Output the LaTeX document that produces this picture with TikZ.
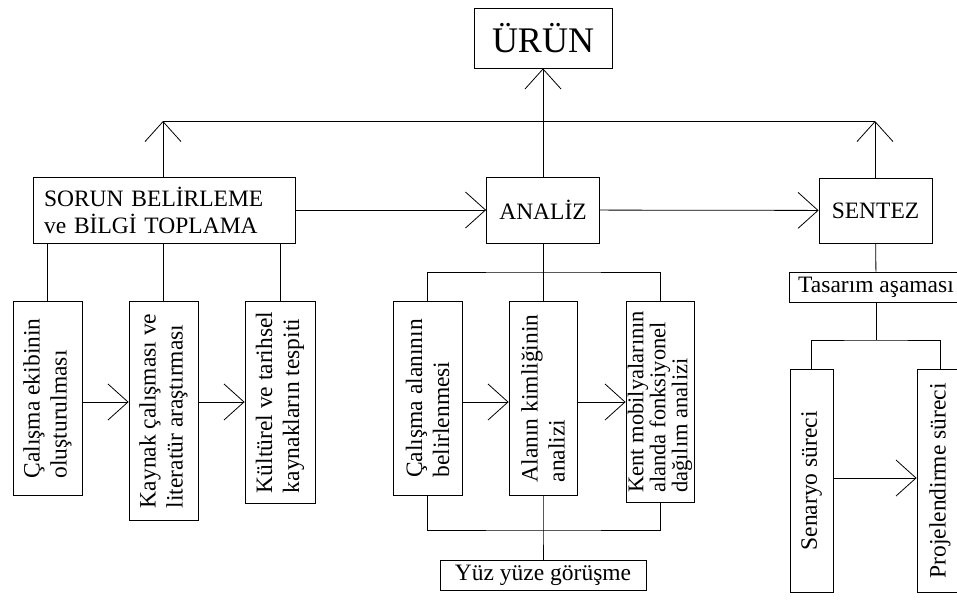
\documentclass[tikz,border=0pt]{standalone}
\usepackage{fontspec}
\setmainfont{Liberation Serif}
\usetikzlibrary{arrows.meta}
\begin{document}
\begin{tikzpicture}[x=1pt,y=-1pt,line width=0.8pt,
  every node/.style={font=\fontsize{23.5}{27}\selectfont},
  kutu/.style={draw, line width=0.8pt, inner sep=0pt},
  dikey/.style={kutu, rotate=90, anchor=east, align=left},
  ok/.style={-{Straight Barb[length=20pt,width=36pt]}}]
\useasboundingbox (0,0) rectangle (957,599);
\clip (0,0) rectangle (957,599);
	\node[kutu, minimum width=138, minimum height=60, font=\fontsize{36}{40}\selectfont] (urun) at (543,38) {ÜRÜN};
	\node[kutu, text width=240pt, inner xsep=11pt, minimum height=66, align=left] (sorun) at (164,210) {SORUN BELİRLEME\\ve BİLGİ TOPLAMA};
	\node[kutu, minimum width=113, minimum height=66] (analiz) at (543,210) {ANALİZ};
	\node[kutu, minimum width=113, minimum height=65] (sentez) at (875.5,210.5) {SENTEZ};
	\node[kutu, minimum width=174, minimum height=30] (tasarim) at (876,287) {Tasarım aşaması};
	\node[kutu, minimum width=206, minimum height=30] (yuz) at (543,575) {Yüz yüze görüşme};
	% sorun belirleme
	\node[dikey, minimum width=194, minimum height=69] (b1) at (47.5,301) {Çalışma ekibinin\\oluşturulması};
	\node[dikey, minimum width=219, minimum height=69] (b2) at (163.5,301) {Kaynak çalışması ve\\literatür araştırması};
	\node[dikey, minimum width=202, minimum height=70] (b3) at (280,301) {Kültürel ve tarihsel\\kaynakların tespiti};
	% analiz
	\node[dikey, minimum width=194, minimum height=69] (a1) at (427.5,301) {Çalışma alanının\\belirlenmesi};
	\node[dikey, minimum width=194, minimum height=68] (a2) at (543,301) {Alanın kimliğinin\\analizi};
	\node[dikey, minimum width=201, minimum height=68, font=\fontsize{22.5}{22}\selectfont] (a3) at (660,301) {Kent mobilyalarının\\alanda fonksiyonel\\dağılım analizi};
	% sentez
	\node[dikey, minimum width=223, minimum height=43] (s1) at (811.5,369) {Senaryo süreci};
	\node[dikey, minimum width=223, minimum height=46] (s2) at (940,369) {Projelendirme süreci};
	\coordinate (tl) at (163,121);
	\coordinate (tr) at (875,121);
	\coordinate (aj) at (543,272);
	\coordinate (ab) at (543,530);
	\coordinate (sj) at (876,340);
	\coordinate (m1) at (0,402);
	\coordinate (m2) at (0,478);
	\draw (tl) -- (tr);
	\draw[ok] (sorun.north -| tl) -- (tl);
	\draw[ok] (sentez.north -| tr) -- (tr);
	\draw[ok] (analiz) -- (urun);
	\draw[ok] (sorun) -- (analiz);
	\draw[ok] (analiz) -- (sentez);
	\draw (b1.east) -- (b1.east |- sorun.south);
	\draw (b2.east) -- (b2.east |- sorun.south);
	\draw (b3.east) -- (b3.east |- sorun.south);
	\draw[ok] (b1.south |- m1) -- (b2.north |- m1);
	\draw[ok] (b2.south |- m1) -- (b3.north |- m1);
	\draw (analiz) -- (aj);
	\draw (a1.east) |- (aj) -| (a3.east);
	\draw (aj) -- (a2.east);
	\draw (a1.west) |- (ab) -| (a3.west);
	\draw (a2.west) -- (ab) -- (yuz);
	\draw[ok] (a1.south |- m1) -- (a2.north |- m1);
	\draw[ok] (a2.south |- m1) -- (a3.north |- m1);
	\draw (sentez) -- (tasarim);
	\draw (tasarim) -- (sj);
	\draw (s1.east) |- (sj) -| (s2.east);
	\draw[ok] (s1.south |- m2) -- (s2.north |- m2);
\end{tikzpicture}
\end{document}
